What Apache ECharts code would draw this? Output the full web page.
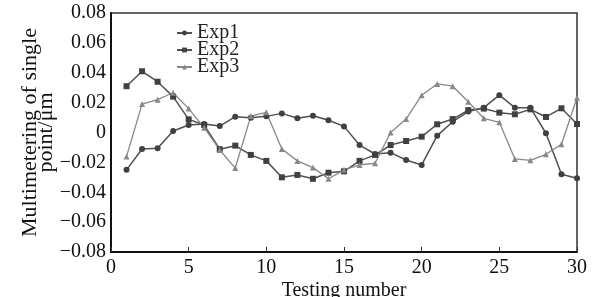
<!DOCTYPE html>
<html>
<head>
<meta charset="utf-8">
<script src="https://cdn.jsdelivr.net/npm/echarts@6/dist/echarts.min.js"></script>
<style>
html, body { margin: 0; padding: 0; background: #fff; }
#chart { width: 606px; height: 297px; }
</style>
</head>
<body>
<div id="chart"></div>
<script>
// testing numbers 1..30
const testNo = [1,2,3,4,5,6,7,8,9,10,11,12,13,14,15,16,17,18,19,20,21,22,23,24,25,26,27,28,29,30];
const exp1 = [-0.025,-0.011,-0.0105,0.001,0.005,0.0057,0.0043,0.0106,0.0099,0.0108,0.0128,0.0095,0.0112,0.0082,0.0041,-0.0084,-0.0144,-0.0135,-0.0184,-0.0217,-0.0021,0.0072,0.014,0.0166,0.025,0.0166,0.0166,-0.0005,-0.028,-0.0306];
const exp2 = [0.031,0.041,0.034,0.024,0.0088,0.005,-0.0112,-0.0088,-0.015,-0.019,-0.030,-0.0284,-0.031,-0.0269,-0.026,-0.019,-0.015,-0.0084,-0.0057,-0.0028,0.0055,0.009,0.015,0.016,0.0133,0.0122,0.0155,0.0104,0.0162,0.0057];
const exp3 = [-0.016,0.019,0.022,0.0266,0.016,0.0032,-0.0117,-0.0238,0.011,0.0135,-0.011,-0.019,-0.0235,-0.031,-0.025,-0.0217,-0.0206,0.0,0.009,0.025,0.0325,0.031,0.0206,0.0095,0.0068,-0.0177,-0.0186,-0.0146,-0.0079,0.0233];
const seriesNames = ['Exp1', 'Exp2', 'Exp3'];

const pair = arr => arr.map((v, i) => [testNo[i], v]);
const font = 'Liberation Serif';

let chart = echarts.init(document.getElementById('chart'));
chart.setOption({
    animation: false,
    backgroundColor: '#fff',
    grid: {
        left: 111,
        right: 29,
        top: 13,
        bottom: 45,
        outerBoundsMode: 'none',
        show: true,
        borderColor: '#333',
        borderWidth: 1.5
    },
    // one legend per row so the rows sit close like the original
    legend: seriesNames.map((n, i) => ({
        data: [n],
        left: 176,
        top: 23 + i * 17,
        padding: 0,
        itemWidth: 15,
        itemHeight: 6,
        textStyle: {
            fontFamily: font,
            fontSize: 20,
            color: '#222'
        }
    })),
    xAxis: {
        type: 'value',
        min: 0,
        max: 30,
        interval: 5,
        name: 'Testing number',
        nameLocation: 'middle',
        nameGap: 29,
        nameMoveOverlap: false,
        nameTextStyle: { fontFamily: font, fontSize: 20, color: '#111' },
        axisLine: { show: true, onZero: false, lineStyle: { color: '#111', width: 2 } },
        axisTick: { show: true, inside: true, length: 5, lineStyle: { color: '#333' } },
        axisLabel: { fontFamily: font, fontSize: 20, color: '#111', margin: 6 },
        splitLine: { show: false }
    },
    yAxis: {
        type: 'value',
        min: -0.08,
        max: 0.08,
        interval: 0.02,
        name: 'Multimetering of single\npoint/\u03bcm',
        nameLocation: 'middle',
        nameGap: 57,
        nameMoveOverlap: false,
        nameTextStyle: { fontFamily: font, fontSize: 22, lineHeight: 16, color: '#111' },
        axisLine: { show: true, onZero: false, lineStyle: { color: '#111', width: 2 } },
        axisTick: { show: false },
        axisLabel: {
            fontFamily: font,
            fontSize: 20,
            color: '#111',
            margin: 5,
            formatter: v => Math.abs(v) < 1e-9 ? '0' : v.toFixed(2).replace('-', '\u2212')
        },
        splitLine: { show: false }
    },
    series: [
        {
            name: seriesNames[0],
            type: 'line',
            data: pair(exp1),
            symbol: 'circle',
            symbolSize: 6,
            lineStyle: { color: '#505050', width: 1.5 },
            itemStyle: { color: '#404040' }
        },
        {
            name: seriesNames[1],
            type: 'line',
            data: pair(exp2),
            symbol: 'rect',
            symbolSize: 6,
            lineStyle: { color: '#505050', width: 1.5 },
            itemStyle: { color: '#404040' }
        },
        {
            name: seriesNames[2],
            type: 'line',
            data: pair(exp3),
            symbol: 'triangle',
            symbolSize: 6,
            lineStyle: { color: '#888', width: 1.3 },
            itemStyle: { color: '#888' }
        }
    ]
});
</script>
</body>
</html>
